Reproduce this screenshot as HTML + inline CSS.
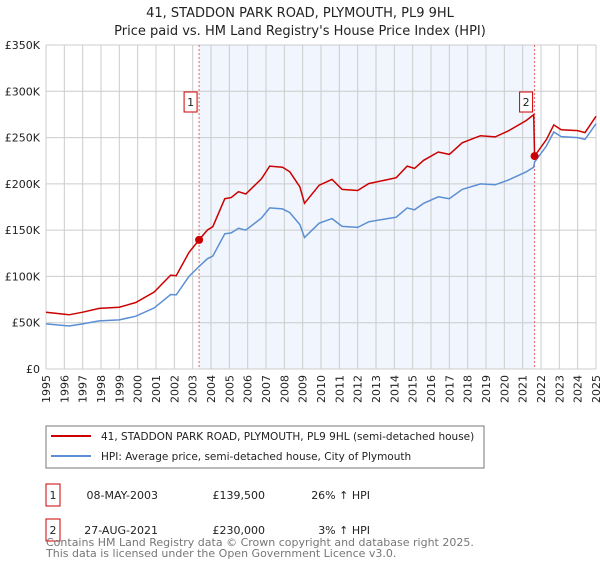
<!DOCTYPE html>
<html><head><meta charset="utf-8"><style>
body{margin:0;background:#fff;font-family:"Liberation Sans","DejaVu Sans",sans-serif;}
svg text{font-family:"DejaVu Sans","Liberation Sans",sans-serif;}
</style></head><body>
<svg id="chart" width="600" height="560" xmlns="http://www.w3.org/2000/svg">
<text x="300" y="17" text-anchor="middle" font-size="13" fill="#222">41, STADDON PARK ROAD, PLYMOUTH, PL9 9HL</text>
<text x="300" y="35" text-anchor="middle" font-size="13" fill="#222">Price paid vs. HM Land Registry's House Price Index (HPI)</text>
<g id="plot"></g>
<g>
<rect x="46" y="426" width="438" height="42" fill="#fff" stroke="#777"/>
<line x1="51" y1="436" x2="91" y2="436" stroke="#cc0000" stroke-width="2"/>
<text x="101" y="440" font-size="10.5" fill="#222">41, STADDON PARK ROAD, PLYMOUTH, PL9 9HL (semi-detached house)</text>
<line x1="51" y1="456" x2="91" y2="456" stroke="#5b8fd4" stroke-width="2"/>
<text x="101" y="460" font-size="10.5" fill="#222">HPI: Average price, semi-detached house, City of Plymouth</text>
</g>
<g>
<rect x="46" y="484" width="14" height="22" fill="#fff" stroke="#cc0000"/>
<text x="53" y="499" text-anchor="middle" font-size="11" fill="#222">1</text>
<text x="158" y="499" text-anchor="end" font-size="11" fill="#222">08-MAY-2003</text>
<text x="265" y="499" text-anchor="end" font-size="11" fill="#222">£139,500</text>
<text x="370" y="499" text-anchor="end" font-size="11" fill="#222">26% ↑ HPI</text>
<rect x="46" y="519" width="14" height="22" fill="#fff" stroke="#cc0000"/>
<text x="53" y="534" text-anchor="middle" font-size="11" fill="#222">2</text>
<text x="158" y="534" text-anchor="end" font-size="11" fill="#222">27-AUG-2021</text>
<text x="265" y="534" text-anchor="end" font-size="11" fill="#222">£230,000</text>
<text x="370" y="534" text-anchor="end" font-size="11" fill="#222">3% ↑ HPI</text>
</g>
<text x="46" y="546" font-size="11" fill="#777">Contains HM Land Registry data © Crown copyright and database right 2025.</text>
<text x="46" y="557" font-size="11" fill="#777">This data is licensed under the Open Government Licence v3.0.</text>
</svg>
<script>
const hpiYears=[1995,1996.26,1997,1997.9,1999,1999.9,2000.9,2001.8,2002.1,2002.8,2003.35,2003.8,2004.1,2004.75,2005.1,2005.5,2005.9,2006.75,2007.2,2007.9,2008.3,2008.85,2009.1,2009.9,2010.6,2011.15,2012,2012.6,2013.5,2014.1,2014.7,2015.1,2015.6,2016.4,2017,2017.7,2018.7,2019.5,2020.2,2021.2,2021.6,2021.65,2022.3,2022.7,2023.1,2024,2024.4,2025];
const hpiValues=[48.7,46.5,48.7,52,53,57,66,80.5,80,100,110.7,119,122,146,147,152,150,163,174,173,169,156,142,157.5,162.5,154,153,159,162,164,174,172,179,186,184,194,200,199,204,213,218,223.5,241,256,251,250,248,265];
const priceValues=[61.4,58.6,61.4,65.5,66.8,71.8,83.2,101.4,100.8,126,139.5,150,153.7,184,185.2,191.5,189,205.4,219.2,218,213,196.6,179,198.5,204.8,194,192.8,200.3,204.1,206.6,219.2,216.7,225.5,234.4,231.8,244.4,252,250.7,257,268.4,274.7,230,248,263.7,258.5,257.5,255.4,273];
const saleYears=[2003.35,2021.65];
const saleValues=[139.5,230];
const saleLabels=["1","2"];
const yTicks=[0,50,100,150,200,250,300,350];
const yTickLabels=["£0","£50K","£100K","£150K","£200K","£250K","£300K","£350K"];
const xTicks=[1995,1996,1997,1998,1999,2000,2001,2002,2003,2004,2005,2006,2007,2008,2009,2010,2011,2012,2013,2014,2015,2016,2017,2018,2019,2020,2021,2022,2023,2024,2025];

const L=46,R=596,T=45,B=369;
const x=v=>L+(v-1995)/30*(R-L);
const y=v=>B-v/350*(B-T);
const NS="http://www.w3.org/2000/svg";
const g=document.getElementById('plot');
function mk(tag,attrs){const e=document.createElementNS(NS,tag);for(const k in attrs)e.setAttribute(k,attrs[k]);g.appendChild(e);return e;}

const shade=mk('rect',{x:x(saleYears[0]),y:T,width:x(saleYears[1])-x(saleYears[0]),height:B-T,fill:'#eef3fc',opacity:0.8});


xTicks.forEach(t=>{
 const l=mk('line',{x1:x(t),x2:x(t),y1:T,y2:B,stroke:'#cccccc','stroke-width':1});
 
 
 const tx=mk('text',{transform:`translate(${x(t)+4},${B+6}) rotate(-90)`,'text-anchor':'end','font-size':11,fill:'#222'});
 tx.textContent=t;
 
 
});
yTicks.forEach((t,i)=>{
 const l=mk('line',{x1:L,x2:R,y1:y(t),y2:y(t),stroke:'#cccccc','stroke-width':1});
 
 
 const tx=mk('text',{x:L-6,y:y(t)+4,'text-anchor':'end','font-size':11,fill:'#222'});
 tx.textContent=yTickLabels[i];
 
 
});
saleYears.forEach((s,i)=>{
 const l=mk('line',{x1:x(s),x2:x(s),y1:T,y2:B,stroke:'#e06666','stroke-width':1,'stroke-dasharray':'2,2'});
 
 
});
const pts=(xs,vs)=>xs.map((v,i)=>x(v).toFixed(1)+','+y(vs[i]).toFixed(1)).join(' ');
const hl=mk('polyline',{points:pts(hpiYears,hpiValues),fill:'none',stroke:'#5b8fd4','stroke-width':1.5});


const pl=mk('polyline',{points:pts(hpiYears,priceValues),fill:'none',stroke:'#cc0000','stroke-width':1.5});


saleYears.forEach((s,i)=>{
 const c=mk('circle',{cx:x(s),cy:y(saleValues[i]),r:4,fill:'#cc0000'});
 
 
 const b=mk('rect',{x:x(s)-15,y:92,width:13,height:20,fill:'#fff',stroke:'#cc0000'});
 
 
 const t=mk('text',{x:x(s)-8.5,y:106,'text-anchor':'middle','font-size':11,fill:'#222'});
 t.textContent=saleLabels[i];
 
 
});
</script>
</body></html>
